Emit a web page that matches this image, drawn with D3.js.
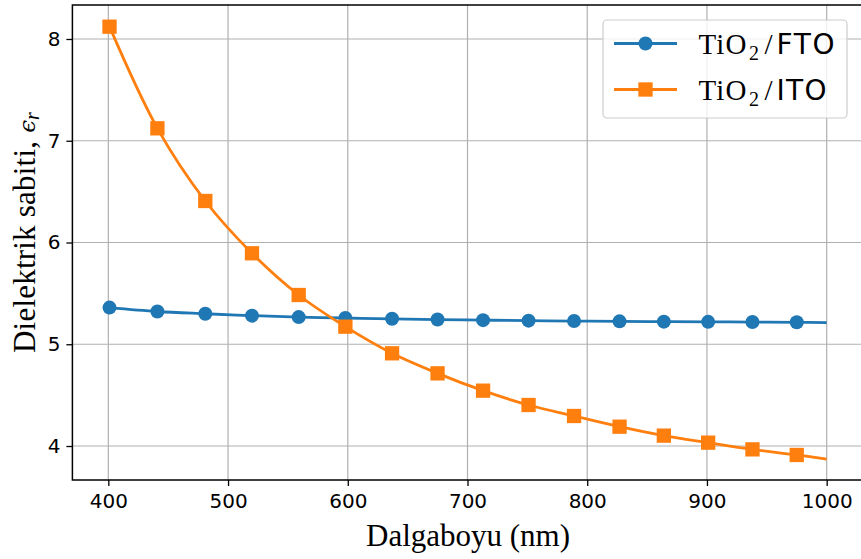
<!DOCTYPE html>
<html>
<head>
  <meta charset="utf-8">
  <title>Dielektrik sabiti</title>
  <style>
    body { margin: 0; background: #fff; }
  </style>
</head>
<body>
  <script src="https://cdn.jsdelivr.net/npm/d3@7"></script>
  <script>
    // wavelengths of the markers (nm) and the line end point
    var wavelength = [401, 441, 481, 520, 559, 598, 637, 675, 713, 751, 789, 827, 864, 901, 938, 975, 1000];
    // TiO2/FTO
    var fto = [5.360, 5.322, 5.300, 5.281, 5.267, 5.258, 5.250, 5.243, 5.237, 5.232, 5.228, 5.225, 5.222, 5.220, 5.218, 5.216, 5.212];
    // TiO2/ITO
    var ito = [8.121, 7.122, 6.408, 5.894, 5.484, 5.173, 4.911, 4.714, 4.544, 4.403, 4.295, 4.190, 4.102, 4.033, 3.967, 3.912, 3.872];
    var nMarkers = 16;
    var xTicks = [400, 500, 600, 700, 800, 900, 1000];
    var yTicks = [4, 5, 6, 7, 8];

    var width = 861, height = 559;
    var margin = {top: 5, bottom: 79};

    var svg = d3.select("body").append("svg")
      .attr("width", width)
      .attr("height", height);

    var xScale = d3.scaleLinear().domain([370, 1030]).range([72.4, 862.6]);
    var yScale = d3.scaleLinear().domain([3.666, 8.334]).range([height - margin.bottom, margin.top]);

    var x0 = xScale.range()[0], x1 = xScale.range()[1];
    var yTop = margin.top, yBot = height - margin.bottom;

    // grid
    var grid = svg.append("g").attr("id", "grid");
    grid.selectAll("line.gx").data(xTicks).enter().append("line")
      .attr("x1", function(d) { return xScale(d); })
      .attr("x2", function(d) { return xScale(d); })
      .attr("y1", yTop).attr("y2", yBot)
      .attr("stroke", "#b0b0b0").attr("stroke-width", 1.2);
    grid.selectAll("line.gy").data(yTicks).enter().append("line")
      .attr("y1", function(d) { return yScale(d); })
      .attr("y2", function(d) { return yScale(d); })
      .attr("x1", x0).attr("x2", x1)
      .attr("stroke", "#b0b0b0").attr("stroke-width", 1.2);

    function styleAxis(g) {
      g.select(".domain").remove();
      g.selectAll(".tick line").attr("stroke-width", 1.3);
      g.selectAll(".tick text")
        .style("font-family", "'DejaVu Sans', sans-serif")
        .style("font-size", "20px")
        .attr("fill", "#000");
    }

    // axes
    svg.append("g")
      .attr("transform", "translate(0," + yBot + ")")
      .call(d3.axisBottom(xScale).tickValues(xTicks).tickFormat(d3.format("d")).tickSize(6).tickPadding(8).tickSizeOuter(0))
      .call(styleAxis);
    svg.append("g")
      .attr("transform", "translate(" + x0 + ",0)")
      .call(d3.axisLeft(yScale).tickValues(yTicks).tickFormat(d3.format("d")).tickSize(6).tickPadding(6).tickSizeOuter(0))
      .call(styleAxis);

    var rows = wavelength.map(function(w, i) { return {w: w, fto: fto[i], ito: ito[i]}; });
    var markerRows = rows.slice(0, nMarkers);

    function lineFor(key) {
      return d3.line()
        .x(function(d) { return xScale(d.w); })
        .y(function(d) { return yScale(d[key]); })
        .curve(d3.curveCatmullRom);
    }

    var lw = 2.8, sq = 14.3, cr = 7;

    // FTO
    svg.append("path")
      .attr("d", lineFor("fto")(rows))
      .attr("fill", "none").attr("stroke", "#1f77b4").attr("stroke-width", lw);
    svg.append("g").selectAll("circle").data(markerRows).enter().append("circle")
      .attr("cx", function(d) { return xScale(d.w); })
      .attr("cy", function(d) { return yScale(d.fto); })
      .attr("r", cr)
      .attr("fill", "#1f77b4");

    // ITO
    svg.append("path")
      .attr("d", lineFor("ito")(rows))
      .attr("fill", "none").attr("stroke", "#ff7f0e").attr("stroke-width", lw);
    svg.append("g").selectAll("rect").data(markerRows).enter().append("rect")
      .attr("x", function(d) { return xScale(d.w) - sq / 2; })
      .attr("y", function(d) { return yScale(d.ito) - sq / 2; })
      .attr("width", sq).attr("height", sq)
      .attr("fill", "#ff7f0e");

    // frame
    svg.append("rect")
      .attr("x", x0).attr("y", yTop)
      .attr("width", x1 - x0).attr("height", yBot - yTop)
      .attr("fill", "none").attr("stroke", "#000").attr("stroke-width", 1.5);

    // axis labels
    svg.append("text")
      .attr("x", 468)
      .attr("y", 546)
      .attr("text-anchor", "middle")
      .style("font-family", "'Liberation Serif', serif")
      .style("font-size", "31px")
      .attr("textLength", 204)
      .text("Dalgaboyu (nm)");

    var yl = svg.append("text")
      .attr("transform", "translate(35,353)rotate(-90)")
      .style("font-family", "'Liberation Serif', serif")
      .style("font-size", "31px");
    yl.append("tspan").attr("textLength", 212).text("Dielektrik sabiti,");
    yl.append("tspan").attr("dx", 8).style("font-family", "'DejaVu Serif', serif").style("font-style", "italic").style("font-size", "23px").text("\u03f5");
    yl.append("tspan").style("font-style", "italic").style("font-size", "20px").attr("dy", 4).text("r");

    // legend
    var lg = svg.append("g").attr("id", "legend");
    lg.append("rect")
      .attr("x", 603).attr("y", 20).attr("width", 244).attr("height", 98).attr("rx", 4)
      .attr("fill", "#fff").attr("fill-opacity", 0.8)
      .attr("stroke", "#cccccc").attr("stroke-width", 1.2);
    var entries = [
      {name: "FTO", color: "#1f77b4", shape: "circle", y: 43.5, nameW: 58},
      {name: "ITO", color: "#ff7f0e", shape: "square", y: 89.5, nameW: 50}
    ];
    entries.forEach(function(e) {
      lg.append("line")
        .attr("x1", 614).attr("x2", 677).attr("y1", e.y).attr("y2", e.y)
        .attr("stroke", e.color).attr("stroke-width", lw);
      if (e.shape == "circle") {
        lg.append("circle").attr("cx", 645.5).attr("cy", e.y).attr("r", cr).attr("fill", e.color);
      } else {
        lg.append("rect").attr("x", 645.5 - sq / 2).attr("y", e.y - sq / 2)
          .attr("width", sq).attr("height", sq).attr("fill", e.color);
      }
      var base = e.y + 10;
      var t = lg.append("text")
        .style("font-family", "'Liberation Serif', serif")
        .style("font-size", "29px");
      t.append("tspan").attr("x", 698.5).attr("y", base).attr("textLength", 48).text("TiO");
      t.append("tspan").attr("x", 749).attr("y", base + 6).style("font-size", "20px").text("2");
      t.append("tspan").attr("x", 764.5).attr("y", base).text("/");
      t.append("tspan").attr("x", 776.5).attr("y", base).attr("textLength", e.nameW)
        .style("font-family", "'DejaVu Sans', sans-serif").style("font-size", "28px").text(e.name);
    });
  </script>
</body>
</html>
